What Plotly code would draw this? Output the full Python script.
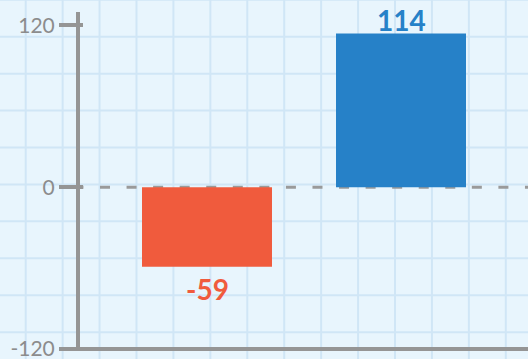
import plotly.graph_objects as go

# Data
categories = ["A", "B"]
values = [-59, 114]
bar_colors = ["#f05b3d", "#2681c8"]
tick_values = [-120, 0, 120]
tick_labels = ["-120", "0", "120"]

W, H = 528, 359
AXIS_GRAY = "#959595"
TEXT_GRAY = "#8c8c8c"
BG = "#e8f5fd"
GRID = "#d0e6f6"

Y_MIN, Y_MAX = -121.6, 130


def px_x(p):
    return p / W


def px_y(p):
    return 1 - p / H


fig = go.Figure()

fig.add_trace(go.Bar(
    x=categories,
    y=values,
    marker=dict(color=bar_colors, line=dict(width=0)),
    width=0.67,
    hoverinfo="skip",
    showlegend=False,
))

# Empty trace so the overlay axis (inner half of the tick marks) is drawn
fig.add_trace(go.Scatter(x=[None], y=[None], yaxis="y2", mode="markers",
                         hoverinfo="skip", showlegend=False))

# Value labels above / below each bar
annotations = []
for c, v, col in zip(categories, values, bar_colors):
    annotations.append(dict(
        x=c, y=v, xref="x", yref="y",
        text=f"<b>{v}</b>",
        showarrow=False,
        font=dict(family="Lato", size=28, color=col),
        yanchor="bottom" if v >= 0 else "top",
        yshift=-5 if v >= 0 else -3,
    ))

# Graph-paper background
shapes = []
step = 36.93
x = 25.7
while x < W + 1:
    shapes.append(dict(type="line", xref="paper", yref="paper",
                       x0=px_x(x), x1=px_x(x), y0=0, y1=1,
                       line=dict(color=GRID, width=2), layer="below"))
    x += step
y = 36.7 - step
while y < H + 1:
    shapes.append(dict(type="line", xref="paper", yref="paper",
                       x0=0, x1=1, y0=px_y(y), y1=px_y(y),
                       line=dict(color=GRID, width=2), layer="below"))
    y += step

# Dashed baseline at zero
shapes.append(dict(type="line", xref="paper", yref="y",
                   x0=px_x(73.44), x1=1, y0=0, y1=0,
                   line=dict(color="#9a9a9a", width=3, dash="10px,16.56px"),
                   layer="below"))

# Horizontal axis line at the bottom of the value scale
shapes.append(dict(type="line", xref="paper", yref="y",
                   x0=px_x(76), x1=1, y0=tick_values[0], y1=tick_values[0],
                   line=dict(color=AXIS_GRAY, width=4), layer="above"))

Y_DOMAIN = [px_y(351.1), px_y(12)]

fig.update_layout(
    width=W, height=H,
    margin=dict(l=0, r=0, t=0, b=0, autoexpand=False),
    paper_bgcolor=BG,
    plot_bgcolor="rgba(0,0,0,0)",
    bargap=0.33,
    shapes=shapes,
    annotations=annotations,
    xaxis=dict(
        domain=[px_x(80), 1],
        range=[-0.6546, 1.6546],
        showticklabels=False,
        ticks="",
        showgrid=False,
        zeroline=False,
        showline=False,
        automargin=False,
        fixedrange=True,
    ),
    yaxis=dict(
        domain=Y_DOMAIN,
        range=[Y_MIN, Y_MAX],
        tickvals=tick_values,
        ticktext=tick_labels,
        ticks="outside",
        ticklen=17,
        tickwidth=4,
        tickcolor=AXIS_GRAY,
        tickfont=dict(family="Lato", size=21, color=TEXT_GRAY),
        ticklabeloverflow="allow",
        showgrid=False,
        zeroline=False,
        showline=True,
        linecolor=AXIS_GRAY,
        linewidth=4,
        automargin=False,
        fixedrange=True,
    ),
    yaxis2=dict(
        domain=Y_DOMAIN,
        range=[Y_MIN, Y_MAX],
        overlaying="y",
        anchor="x",
        side="left",
        tickvals=tick_values,
        ticks="inside",
        ticklen=3,
        tickwidth=4,
        tickcolor=AXIS_GRAY,
        showticklabels=False,
        showgrid=False,
        zeroline=False,
        showline=False,
        automargin=False,
        fixedrange=True,
    ),
)

fig.write_html("out.html", config={"displayModeBar": False})
